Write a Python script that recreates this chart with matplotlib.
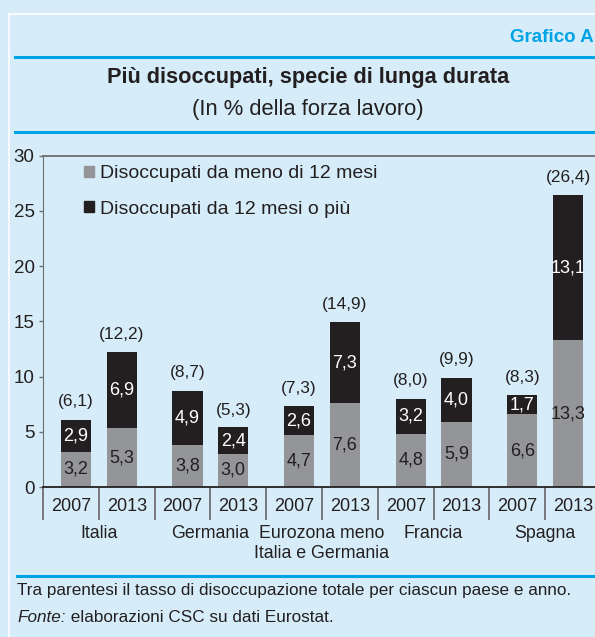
import matplotlib
matplotlib.use("Agg")
import matplotlib.pyplot as plt
from matplotlib.lines import Line2D
from matplotlib.patches import Patch
import numpy as np

# ================================
# DATA
# ================================

countries = ["Italia", "Germania", "Eurozona meno\nItalia e Germania", "Francia", "Spagna"]
years = ["2007", "2013"]
short_term = [3.2, 5.3, 3.8, 3.0, 4.7, 7.6, 4.8, 5.9, 6.6, 13.3]
long_term = [2.9, 6.9, 4.9, 2.4, 2.6, 7.3, 3.2, 4.0, 1.7, 13.1]
totals = [6.1, 12.2, 8.7, 5.3, 7.3, 14.9, 8.0, 9.9, 8.3, 26.4]
legend_labels = ["Disoccupati da meno di 12 mesi", "Disoccupati da 12 mesi o più"]

# ================================
# STYLE
# ================================

bg = "#d6edf9"
gray = "#939598"
black = "#231f20"
blue = "#00a3e4"
text_col = "#231f20"
plt.rcParams["font.family"] = ["Liberation Sans", "DejaVu Sans"]

W, H = 595, 637
fig = plt.figure(figsize=(W / 100, H / 100), dpi=100, facecolor=bg)


def fx(px):
    return px / W


def fy(py):
    return (H - py) / H


# frame lines
fig.add_artist(Line2D([fx(8.5), 1], [fy(13.5), fy(13.5)], color="white", lw=1.2))
fig.add_artist(Line2D([fx(8.5), fx(8.5)], [fy(13.5), 0], color="white", lw=1.2))
for yy, x0 in [(57, 15), (132, 15), (576, 17)]:
    fig.add_artist(Line2D([fx(x0), 1], [fy(yy), fy(yy)], color=blue, lw=2.2))

fig.text(fx(594), fy(37), "Grafico A", color=blue, fontsize=13.5, fontweight="bold",
         ha="right", va="center")
fig.text(fx(308.5), fy(77), "Più disoccupati, specie di lunga durata", color=text_col,
         fontsize=15.7, fontweight="bold", ha="center", va="center")
fig.text(fx(308), fy(109), "(In % della forza lavoro)", color=text_col,
         fontsize=15.8, ha="center", va="center")

# ================================
# CHART
# ================================

ax = fig.add_axes([fx(43), fy(487), (601 - 43) / W, (487 - 155.7) / H])
ax.set_facecolor("none")

x = []
for i in range(len(countries)):
    c = 2 * i + 0.5
    x += [c - 0.41, c + 0.41]
x = np.array(x)
bw = 0.54

b1 = ax.bar(x, short_term, width=bw, color=gray, zorder=2)
b2 = ax.bar(x, long_term, width=bw, bottom=short_term, color=black, zorder=2)

fs_val = 13
fs_tot = 12.4
for xi, s, l, t in zip(x, short_term, long_term, totals):
    ax.text(xi, s / 2, f"{s:.1f}".replace(".", ","), ha="center", va="center",
            color=text_col, fontsize=fs_val)
    ax.text(xi, s + l / 2, f"{l:.1f}".replace(".", ","), ha="center", va="center",
            color="white", fontsize=fs_val)
    ax.annotate(f"({t:.1f})".replace(".", ","), (xi, t), xytext=(0, 13),
                textcoords="offset points", ha="center", va="center",
                color=text_col, fontsize=fs_tot)

ax.set_xlim(-0.5, 9.5)
ax.set_ylim(0, 30)
ax.set_yticks(range(0, 31, 5))
ax.tick_params(axis="y", labelsize=13.5, length=3, width=1, color="#6d6e71",
               labelcolor=text_col, pad=3)

ax.set_xticks(range(10))
ax.set_xticklabels(years * len(countries))
ax.set_xticks(np.arange(-0.5, 10, 1), minor=True)
ax.tick_params(axis="x", which="major", length=0, labelsize=13, labelcolor=text_col, pad=8)
ax.tick_params(axis="x", which="minor", length=24, width=1.3, color="#6d6e71")

ax.spines["right"].set_visible(False)
ax.spines["left"].set_color("#6d6e71")
ax.spines["top"].set_color("#6d6e71")
ax.spines["top"].set_linewidth(1.3)
ax.spines["bottom"].set_color(black)
ax.spines["bottom"].set_linewidth(1.3)

for i, name in enumerate(countries):
    ax.text(2 * i + 0.5, -0.115, name, transform=ax.get_xaxis_transform(),
            ha="center", va="top", fontsize=12.8, color=text_col, linespacing=1.2)

ax.legend([Patch(color=gray), Patch(color=black)], legend_labels,
          loc="upper left", bbox_to_anchor=(0.06, 0.995), frameon=False,
          fontsize=14, handlelength=0.5, handleheight=0.5, handletextpad=0.3,
          labelspacing=0.95, labelcolor=text_col, borderaxespad=0)

# ================================
# FOOTNOTE
# ================================

fn = 12.3
fig.text(fx(17), fy(590), "Tra parentesi il tasso di disoccupazione totale per ciascun paese e anno.",
         fontsize=fn, color=text_col, ha="left", va="center")
t1 = fig.text(fx(17), fy(618), "Fonte:", style="italic", fontsize=fn,
              color=text_col, ha="left", va="center")
ax.annotate(" elaborazioni CSC su dati Eurostat.", xy=(1, 0.5), xycoords=t1,
            fontsize=fn, color=text_col, ha="left", va="center",
            annotation_clip=False)

fig.savefig("out.png", dpi=100, facecolor=bg)
